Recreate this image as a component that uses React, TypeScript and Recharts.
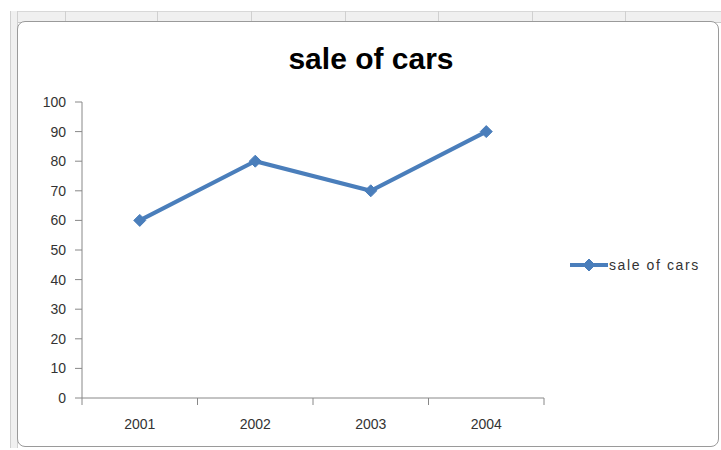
import React from "react";
import { LineChart, Line, XAxis, YAxis } from "recharts";

const years = ["2001", "2002", "2003", "2004"];
const sales = [60, 80, 70, 90];
const yTicks = [0, 10, 20, 30, 40, 50, 60, 70, 80, 90, 100];
const seriesName = "sale of cars";
const titleText = "sale of cars";

const data = years.map((y, i) => ({ year: y, sales: sales[i] }));

const BLUE = "#4a7ebb";
const FONT = "'Liberation Sans', Arial, sans-serif";
const PLOT_LEFT = 82;
const PLOT_RIGHT = 544;
const BAND = (PLOT_RIGHT - PLOT_LEFT) / years.length;

const Diamond = (props: any) => {
  const { cx, cy } = props;
  if (cx == null || cy == null) return null;
  const r = 6;
  return (
    <path
      d={`M${cx},${cy - r}L${cx + r},${cy}L${cx},${cy + r}L${cx - r},${cy}Z`}
      fill={BLUE}
      stroke={BLUE}
      strokeWidth={1}
    />
  );
};

const XTick = (props: any) => {
  const { x, y, payload, index } = props;
  const left = x - BAND / 2;
  return (
    <g>
      <line x1={left} y1={y - 8} x2={left} y2={y - 1} stroke="#888" strokeWidth={1} />
      {index === years.length - 1 && (
        <line x1={x + BAND / 2} y1={y - 8} x2={x + BAND / 2} y2={y - 1} stroke="#888" strokeWidth={1} />
      )}
      <text x={x} y={y + 23} textAnchor="middle" fontSize={14} fill="#333" fontFamily={FONT}>
        {payload.value}
      </text>
    </g>
  );
};

const rulerLines = [65, 157, 251, 345, 438, 532, 625];

export default function App() {
  return (
    <div style={{ position: "absolute", left: 0, top: 0, width: 721, height: 450, background: "#fff", overflow: "hidden" }}>
      <div style={{ position: "absolute", left: 12, top: 11, width: 709, height: 10, background: "#f0f0f0", borderTop: "1px solid #d8d8d8", borderBottom: "1px solid #c8c8c8" }} />
      {rulerLines.map((x) => (
        <div key={x} style={{ position: "absolute", left: x, top: 11, width: 1, height: 11, background: "#d0d0d0" }} />
      ))}
      <div style={{ position: "absolute", left: 10, top: 11, width: 6, height: 437, background: "#f0f0f0", borderLeft: "1px solid #d0d0d0", borderRight: "1px solid #d0d0d0" }} />
      <div style={{ position: "absolute", left: 17, top: 21, width: 700, height: 424, border: "1px solid #9a9a9a", borderRadius: 8, background: "#fff" }} />
      <div style={{ position: "absolute", left: 0, top: 0 }}>
        <LineChart width={721} height={450} data={data} margin={{ top: 102, right: 721 - PLOT_RIGHT, bottom: 22, left: 40 }}>
          <text x={371} y={69} textAnchor="middle" fontSize={30} fontWeight="bold" fill="#000" fontFamily={FONT}>
            {titleText}
          </text>
          <XAxis
            dataKey="year"
            scale="band"
            height={30}
            stroke="#888"
            tickLine={false}
            tick={<XTick />}
            interval={0}
          />
          <YAxis
            domain={[0, 100]}
            ticks={yTicks}
            width={42}
            stroke="#888"
            tickSize={7}
            tickMargin={9}
            tick={{ fontSize: 14, fill: "#333", fontFamily: FONT }}
            interval={0}
          />
          <Line
            dataKey="sales"
            name={seriesName}
            stroke={BLUE}
            strokeWidth={4}
            dot={<Diamond />}
            isAnimationActive={false}
          />
          <g>
            <line x1={570} y1={265} x2={608} y2={265} stroke={BLUE} strokeWidth={4} />
            <Diamond cx={589} cy={265} />
            <text x={609} y={270} fontSize={14} letterSpacing={1.6} fill="#333" fontFamily={FONT}>
              {seriesName}
            </text>
          </g>
        </LineChart>
      </div>
    </div>
  );
}
